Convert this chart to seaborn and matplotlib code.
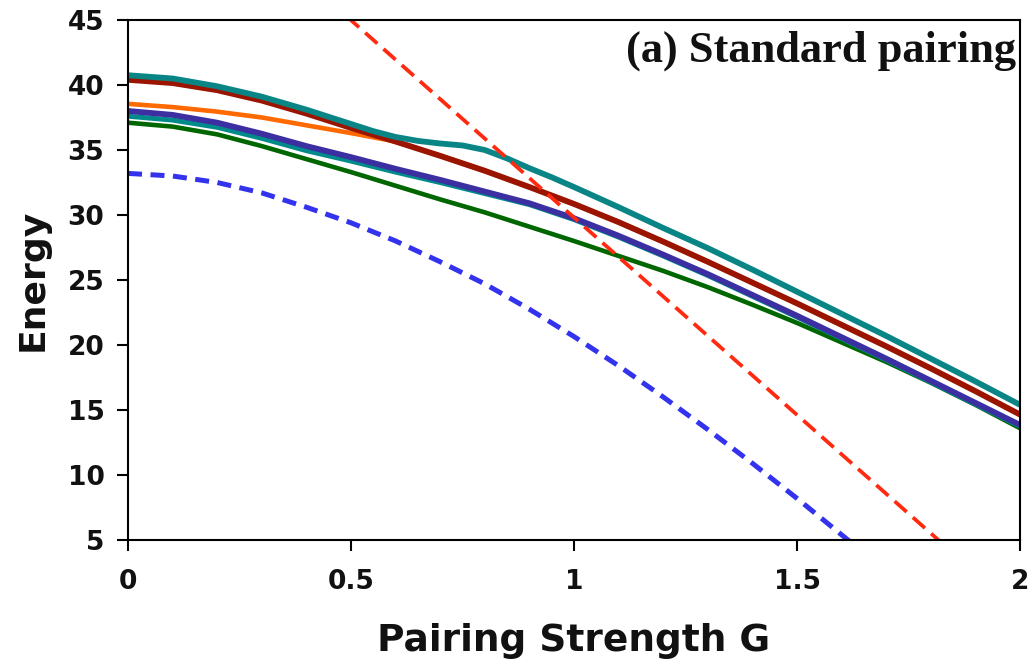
import matplotlib
matplotlib.use("Agg")
import matplotlib.pyplot as plt
import seaborn as sns

# Pairing strength grid shared by most levels
g_grid = [0.0, 0.1, 0.2, 0.3, 0.4, 0.5, 0.6, 0.7, 0.8, 0.9, 1.0,
          1.1, 1.2, 1.3, 1.4, 1.5, 1.6, 1.7, 1.8, 1.9, 2.0]

# Energy levels (solid curves)
e_green = [37.1, 36.8, 36.2, 35.3, 34.3, 33.3, 32.25, 31.2, 30.2, 29.1, 28.0,
           26.85, 25.7, 24.45, 23.1, 21.7, 20.2, 18.7, 17.1, 15.4, 13.6]
e_purple = [38.0, 37.7, 37.1, 36.25, 35.3, 34.45, 33.55, 32.7, 31.8, 30.9, 29.75,
            28.4, 26.95, 25.45, 23.85, 22.25, 20.6, 18.95, 17.25, 15.55, 13.85]
e_teal_low = [37.6, 37.3, 36.75, 35.9, 34.95, 34.15, 33.3, 32.5, 31.65, 30.8, 29.65,
              28.3, 26.85, 25.35, 23.75, 22.15, 20.5, 18.85, 17.15, 15.45, 13.75]
e_orange = [38.55, 38.3, 37.95, 37.5, 36.9, 36.3, 35.65, 34.55, 33.4, 32.15, 30.85,
            29.45, 27.95, 26.4, 24.8, 23.2, 21.55, 19.9, 18.2, 16.45, 14.65]
e_darkred = [40.4, 40.15, 39.6, 38.8, 37.8, 36.7, 35.65, 34.55, 33.4, 32.15, 30.85,
             29.45, 27.95, 26.4, 24.8, 23.2, 21.55, 19.9, 18.2, 16.45, 14.65]

# Upper level, sampled more finely around its plateau
g_teal = [0.0, 0.1, 0.2, 0.3, 0.4, 0.5, 0.55, 0.6, 0.65, 0.7, 0.75, 0.8, 0.85,
          0.9, 0.95, 1.0, 1.1, 1.2, 1.3, 1.4, 1.5, 1.6, 1.7, 1.8, 1.9, 2.0]
e_teal = [40.75, 40.5, 39.9, 39.1, 38.1, 37.0, 36.45, 36.0, 35.7, 35.5, 35.35, 35.0, 34.35,
          33.6, 32.9, 32.15, 30.6, 29.0, 27.45, 25.8, 24.1, 22.4, 20.7, 18.95, 17.2, 15.4]

# Dashed references
g_blue = [0.0, 0.1, 0.2, 0.3, 0.4, 0.5, 0.6, 0.7, 0.8, 0.9, 1.0,
          1.1, 1.2, 1.3, 1.4, 1.5, 1.6, 1.65]
e_blue = [33.2, 33.0, 32.5, 31.7, 30.6, 29.4, 28.0, 26.4, 24.7, 22.75, 20.65,
          18.4, 16.0, 13.5, 10.9, 8.2, 5.4, 4.0]
g_red = [0.45, 1.85]
e_red = [46.5, 4.0]

x_ticks = [0, 0.5, 1, 1.5, 2]
x_tick_labels = ["0", "0.5", "1", "1.5", "2"]
y_ticks = [5, 10, 15, 20, 25, 30, 35, 40, 45]

sns.set_theme(style="ticks")
plt.rcParams["font.family"] = ["DejaVu Sans"]
plt.rcParams["font.weight"] = "bold"

fig = plt.figure(figsize=(10.3, 6.6), dpi=100)
ax = fig.add_axes([0.1243, 0.1818, 0.8660, 0.7879])

solid = [
    (g_grid, e_green, "#006600", 3.3),
    (g_grid, e_teal_low, "#008a8a", 3.6),
    (g_grid, e_purple, "#3c2fa2", 4.2),
    (g_grid, e_orange, "#ff6a00", 3.3),
    (g_grid, e_darkred, "#9a1400", 4.2),
    (g_teal, e_teal, "#0a8585", 4.2),
]
for xs, ys, col, lw in solid:
    sns.lineplot(x=xs, y=ys, color=col, lw=lw, ax=ax, sort=False,
                 solid_capstyle="butt", solid_joinstyle="round")

sns.lineplot(x=g_blue, y=e_blue, color="#3333ee", lw=3.6, ax=ax, sort=False)
ax.lines[-1].set_dashes((2.8, 1.7))
sns.lineplot(x=g_red, y=e_red, color="#ff2a10", lw=2.7, ax=ax, sort=False)
ax.lines[-1].set_dashes((4.3, 2.2))

ax.set_xlim(0, 2)
ax.set_ylim(5, 45)
ax.set_xticks(x_ticks)
ax.set_xticklabels(x_tick_labels)
ax.set_yticks(y_ticks)

for side in ["left", "right", "top", "bottom"]:
    ax.spines[side].set_visible(True)
    ax.spines[side].set_color("black")
    ax.spines[side].set_linewidth(1.5)

ax.tick_params(axis="both", direction="out", length=8, width=1.5,
               color="black", labelsize=19, labelcolor="#111111")
ax.tick_params(axis="x", pad=13)
ax.tick_params(axis="y", pad=9)
for lab in ax.get_xticklabels() + ax.get_yticklabels():
    lab.set_fontweight("bold")

ax.set_xlabel("Pairing Strength G", fontsize=27, fontweight="bold",
              labelpad=20, color="#111111")
ax.set_ylabel("Energy", fontsize=26, fontweight="bold", labelpad=13,
              color="#111111")

ax.text(0.995, 0.98, "(a) Standard pairing", transform=ax.transAxes,
        ha="right", va="top", fontsize=32, fontweight="bold",
        family=["Liberation Serif", "DejaVu Serif"], color="#111111")

ax.set_facecolor("white")
fig.patch.set_facecolor("white")
fig.savefig("out.png", dpi=100)
